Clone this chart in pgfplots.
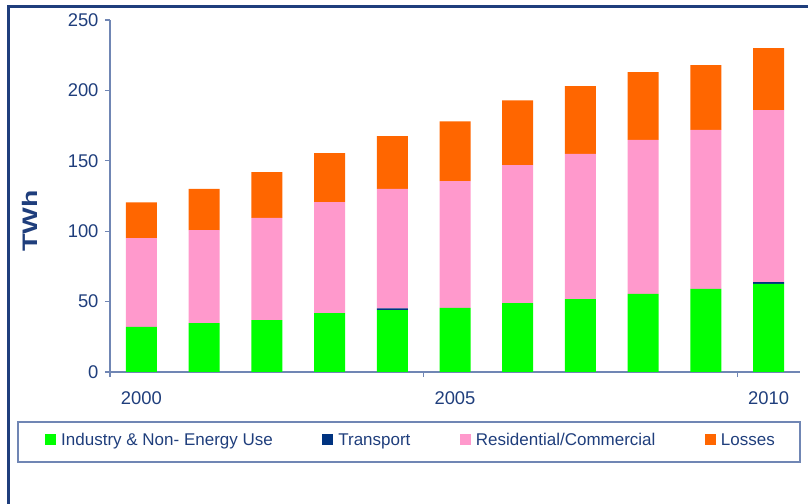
\documentclass[border=0pt]{standalone}
\usepackage{fontspec}
\setmainfont{Liberation Sans}
\usepackage{graphicx}
\usepackage{pgfplots}
\usepackage{pgfplotstable}
\pgfplotsset{compat=1.18}
\definecolor{txtblue}{HTML}{1F3E7C}
\definecolor{axblue}{HTML}{7086B4}
\definecolor{indgreen}{HTML}{00FF00}
\definecolor{trnavy}{HTML}{003380}
\definecolor{respink}{HTML}{FF99CC}
\definecolor{lossorange}{HTML}{FF6600}

% stacked increments, TWh
\pgfplotstableread{
x  ind   tr   res    loss
0  32.0  0    63.0   25.5
1  34.8  0    66.0   29.2
2  36.9  0    72.5   32.6
3  41.9  0    78.8   34.8
4  44.0  1.2  84.8   37.6
5  45.5  0    90.1   42.4
6  49.0  0    98.0   46.0
7  51.8  0    103.2  48.0
8  55.4  0    109.4  48.2
9  59.0  0    112.9  46.1
10 62.5  1.4  122.1  44.0
}\energy

\begin{document}
\begin{tikzpicture}
\begin{axis}[
    at={(110bp,132bp)}, anchor=south west,
    scale only axis, width=690bp, height=352bp,
    ybar stacked, bar width=31bp,
    xmin=-0.5, xmax=10.5, ymin=0, ymax=250,
    axis x line=bottom, axis y line=left,
    axis line style={-, draw=axblue, line width=1.4bp},
    tick align=outside, major tick length=5bp,
    tick style={draw=axblue, line width=1.2bp},
    ytick={0,50,...,250},
    yticklabel style={xshift=-3bp},
    xtick={-0.5,4.5,9.5}, xticklabels={},
    extra x ticks={0,5,10},
    extra x tick labels={2000,2005,2010},
    extra x tick style={major tick length=0pt,
        xticklabel style={anchor=center, yshift=-26bp}},
    ticklabel style={font=\fontsize{18.4bp}{21bp}\selectfont, text=txtblue},
    /pgf/number format/assume math mode=true,
    ylabel={\scalebox{1.35}[1]{\textbf{TWh}}},
    ylabel style={at={(axis description cs:-0.116,0.43)}, anchor=center,
        font=\fontsize{21bp}{24bp}\selectfont, text=txtblue},
    legend columns=4,
    legend style={draw=none, fill=none, inner sep=0pt,
        at={(axis description cs:-0.0942,-0.193)}, anchor=west,
        font=\fontsize{17bp}{20bp}\selectfont, text=txtblue,
        nodes={inner sep=0pt},
        /tikz/every odd column/.append style={column sep=5bp},
        /tikz/every even column/.append style={column sep=49.5bp}},
    legend cell align=left,
    legend image code/.code={\fill[#1] (0bp,-5.5bp) rectangle (11bp,5.5bp);},
]
\addplot[fill=indgreen, draw=none] table[x=x, y=ind] {\energy};
\addplot[fill=trnavy, draw=none] table[x=x, y=tr] {\energy};
\addplot[fill=respink, draw=none] table[x=x, y=res] {\energy};
\addplot[fill=lossorange, draw=none] table[x=x, y=loss] {\energy};
\legend{Industry \& Non- Energy Use, Transport, Residential/Commercial, Losses}
\end{axis}
\draw[axblue, line width=1.5bp] (18bp,42bp) rectangle (800bp,82bp);
\draw[txtblue, line width=2.5bp] (8.5bp,-5bp) -- (8.5bp,497.5bp) -- (830bp,497.5bp);
\pgfresetboundingbox
\path[use as bounding box] (0bp,0bp) rectangle (808bp,504bp);
\end{tikzpicture}
\end{document}
